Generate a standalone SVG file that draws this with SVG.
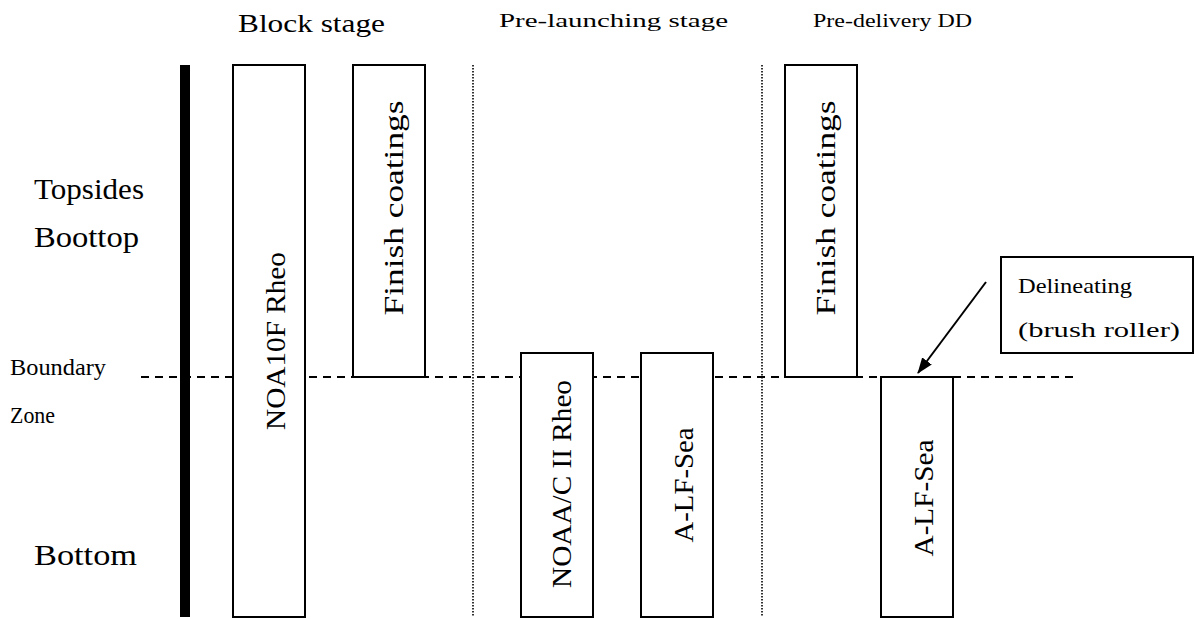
<svg xmlns="http://www.w3.org/2000/svg" width="1199" height="619" viewBox="0 0 1199 619">
<style>
text{font-family:"Liberation Serif","Times New Roman",serif;fill:#000}
.box{fill:#fff;stroke:#000;stroke-width:2}
.dash{stroke:#000;stroke-width:2;stroke-dasharray:8 6;fill:none}
.dot{stroke:#000;stroke-width:1.6;stroke-dasharray:1.5 1.5;fill:none}
.v{font-size:27px}
</style>
<defs>
<marker id="ah" markerWidth="16" markerHeight="12" refX="15" refY="6" orient="auto" markerUnits="userSpaceOnUse">
<path d="M0,0 L16,6 L0,12 z" fill="#000"/>
</marker>
</defs>
<rect width="1199" height="619" fill="#fff"/>
<g id="headers">
<text x="238" y="32" font-size="25" textLength="147" lengthAdjust="spacingAndGlyphs">Block stage</text>
<text x="499" y="27" font-size="19" textLength="229" lengthAdjust="spacingAndGlyphs">Pre-launching stage</text>
<text x="813" y="27" font-size="19" textLength="159" lengthAdjust="spacingAndGlyphs">Pre-delivery DD</text>
</g>
<g id="rowlabels">
<text x="34" y="199" font-size="30" textLength="110" lengthAdjust="spacingAndGlyphs">Topsides</text>
<text x="34" y="247" font-size="30" textLength="105" lengthAdjust="spacingAndGlyphs">Boottop</text>
<text x="10" y="375" font-size="23" textLength="96" lengthAdjust="spacingAndGlyphs">Boundary</text>
<text x="10" y="423" font-size="23" textLength="45" lengthAdjust="spacingAndGlyphs">Zone</text>
<text x="34" y="565" font-size="30" textLength="103" lengthAdjust="spacingAndGlyphs">Bottom</text>
</g>
<g id="connectors">
<line class="dash" x1="141" y1="377" x2="1074" y2="377"/>
<line class="dot" x1="473" y1="65" x2="473" y2="617"/>
<line class="dot" x1="762" y1="65" x2="762" y2="617"/>
<line x1="986" y1="282" x2="918" y2="373" stroke="#000" stroke-width="2" marker-end="url(#ah)"/>
</g>
<g id="bar"><rect x="180" y="65" width="10" height="552" fill="#000"/></g>
<g id="noa10f">
<rect class="box" x="233" y="65" width="72" height="552"/>
<text class="v" transform="translate(285,341) rotate(-90)" text-anchor="middle" textLength="178" lengthAdjust="spacingAndGlyphs">NOA10F Rheo</text>
</g>
<g id="finish1">
<rect class="box" x="353" y="65" width="72" height="312"/>
<text class="v" transform="translate(403,208) rotate(-90)" text-anchor="middle" textLength="215" lengthAdjust="spacingAndGlyphs">Finish coatings</text>
</g>
<g id="noaac">
<rect class="box" x="521" y="353" width="72" height="264"/>
<text class="v" transform="translate(571,484) rotate(-90)" text-anchor="middle" textLength="208" lengthAdjust="spacingAndGlyphs">NOAA/C II Rheo</text>
</g>
<g id="alf1">
<rect class="box" x="641" y="353" width="72" height="264"/>
<text class="v" transform="translate(693,485) rotate(-90)" text-anchor="middle" textLength="115" lengthAdjust="spacingAndGlyphs">A-LF-Sea</text>
</g>
<g id="finish2">
<rect class="box" x="785" y="65" width="72" height="312"/>
<text class="v" transform="translate(835,208) rotate(-90)" text-anchor="middle" textLength="215" lengthAdjust="spacingAndGlyphs">Finish coatings</text>
</g>
<g id="alf2">
<rect class="box" x="881" y="377" width="72" height="240"/>
<text class="v" transform="translate(933,498) rotate(-90)" text-anchor="middle" textLength="117" lengthAdjust="spacingAndGlyphs">A-LF-Sea</text>
</g>
<g id="delineating">
<rect class="box" x="1001" y="257" width="192" height="96"/>
<text x="1018" y="293" font-size="21" textLength="114" lengthAdjust="spacingAndGlyphs">Delineating</text>
<text x="1018" y="337" font-size="21" textLength="162" lengthAdjust="spacingAndGlyphs">(brush roller)</text>
</g>
</svg>
